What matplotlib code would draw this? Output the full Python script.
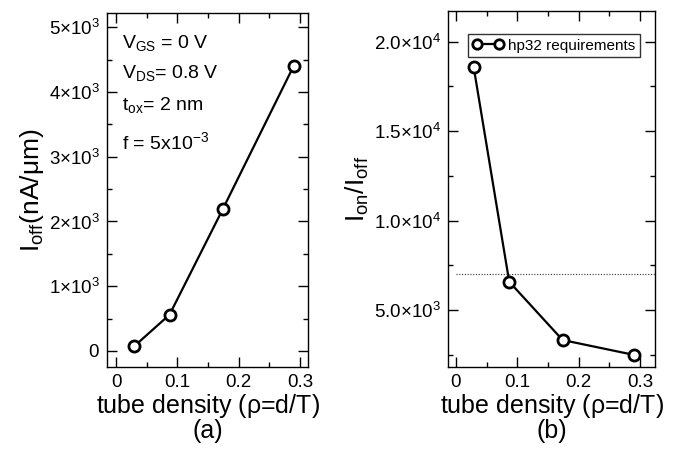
import matplotlib
matplotlib.use("Agg")
import matplotlib.pyplot as plt
from matplotlib.ticker import MultipleLocator, FixedLocator, FixedFormatter

plt.rcParams['font.family'] = ['Liberation Sans', 'DejaVu Sans']
plt.rcParams['mathtext.fontset'] = 'custom'
plt.rcParams['mathtext.rm'] = 'Liberation Sans'
plt.rcParams['mathtext.it'] = 'Liberation Sans'
plt.rcParams['mathtext.sf'] = 'Liberation Sans'

# Data
density = [0.029, 0.087, 0.174, 0.290]
i_off = [70, 560, 2190, 4405]
on_off = [18600, 6580, 3320, 2490]
hp32_req = 7000

left_yticks = [0, 1000, 2000, 3000, 4000, 5000]
left_ylabels = [r'$0$', r'$1{\times}10^3$', r'$2{\times}10^3$', r'$3{\times}10^3$',
                r'$4{\times}10^3$', r'$5{\times}10^3$']
right_yticks = [5000, 10000, 15000, 20000]
right_ylabels = [r'$5.0{\times}10^3$', r'$1.0{\times}10^4$', r'$1.5{\times}10^4$', r'$2.0{\times}10^4$']
xticks = [0, 0.1, 0.2, 0.3]
xticklabels = ['0', '0.1', '0.2', '0.3']

fig = plt.figure(figsize=(6.78, 4.51), dpi=100)
ax1 = fig.add_axes([0.158, 0.186, 0.296, 0.785])
ax2 = fig.add_axes([0.661, 0.187, 0.305, 0.789])

line_kw = dict(color='black', lw=1.6, marker='o', markersize=8,
               markerfacecolor='white', markeredgecolor='black', markeredgewidth=2.0)

ax1.plot(density, i_off, **line_kw)
ax2.plot(density, on_off, label='hp32 requirements', **line_kw)
ax2.plot([0, 0.33], [hp32_req, hp32_req], color='#333333', lw=0.8, ls=(0, (1, 1.5)))

for ax in (ax1, ax2):
    ax.set_xticks(xticks)
    ax.set_xticklabels(xticklabels)
    ax.xaxis.set_minor_locator(MultipleLocator(0.05))
    ax.tick_params(which='both', direction='in', top=True, right=True, labelsize=13.5)
    ax.tick_params(which='major', length=7, width=1.0, pad=5)
    ax.tick_params(which='minor', length=3.5, width=1.0)
    for s in ax.spines.values():
        s.set_linewidth(1.0)
    ax.set_xlabel(r'tube density ($\rho$=d/T)', fontsize=18, labelpad=1)

ax1.set_xlim(-0.015, 0.313)
ax1.set_ylim(-250, 5220)
ax1.yaxis.set_major_locator(FixedLocator(left_yticks))
ax1.yaxis.set_major_formatter(FixedFormatter(left_ylabels))
ax1.yaxis.set_minor_locator(MultipleLocator(500))
ax1.set_ylabel(r'$\mathregular{I_{off}(nA/\mu m)}$', fontsize=19, labelpad=2)

ax2.set_xlim(-0.0125, 0.3245)
ax2.set_ylim(1830, 21730)
ax2.yaxis.set_major_locator(FixedLocator(right_yticks))
ax2.yaxis.set_major_formatter(FixedFormatter(right_ylabels))
ax2.yaxis.set_minor_locator(MultipleLocator(2500))
ax2.set_ylabel(r'$\mathregular{I_{on}/I_{off}}$', fontsize=19, labelpad=2)

leg = ax2.legend(loc='upper left', bbox_to_anchor=(0.097, 0.935), fontsize=11,
                 frameon=True, fancybox=False, edgecolor='black', handlelength=2.0,
                 handletextpad=0.3, borderpad=0.3, borderaxespad=0, numpoints=2,
                 markerscale=0.85)
leg.get_frame().set_linewidth(1.0)

ann = [r'V$_\mathregular{GS}$ = 0 V', r'V$_\mathregular{DS}$= 0.8 V',
       r't$_\mathregular{ox}$= 2 nm', r'f = 5x10$^\mathregular{-3}$']
ann_y = [0.915, 0.83, 0.74, 0.635]
for t, y in zip(ann, ann_y):
    ax1.text(0.075, y, t, transform=ax1.transAxes, fontsize=14, va='center', ha='left')

fig.text(0.306, 0.045, '(a)', fontsize=18, ha='center', va='center')
fig.text(0.8135, 0.045, '(b)', fontsize=18, ha='center', va='center')

fig.savefig('out.png', dpi=100)
